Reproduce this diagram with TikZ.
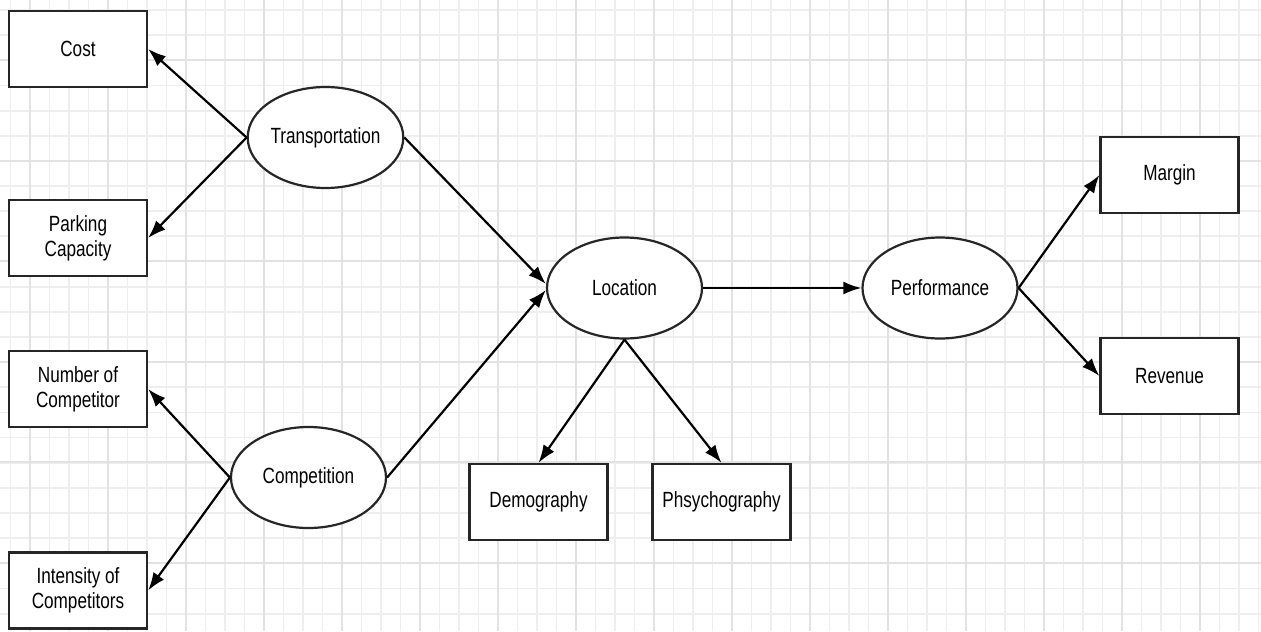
\documentclass[tikz,border=0pt]{standalone}
\usepackage{fontspec}
\setmainfont{Liberation Sans}[FakeStretch=0.78]
\usetikzlibrary{arrows.meta,shapes.geometric}
\definecolor{gridminor}{RGB}{238,238,238}
\definecolor{gridmajor}{RGB}{226,226,226}
\tikzset{
  boxnode/.style={draw=black!85,line width=1.1pt,minimum width=69pt,minimum height=38pt,inner sep=0pt,align=center,font=\fontsize{11}{12.5}\selectfont,fill=white},
  ellnode/.style={draw=black!85,ellipse,line width=1.1pt,minimum width=77.5pt,minimum height=50.5pt,inner sep=0pt,align=center,font=\fontsize{11}{12.5}\selectfont,fill=white},
  conn/.style={draw=black,line width=1.1pt,-{Latex[length=9pt,width=6.5pt]}}
}
\begin{document}
\begin{tikzpicture}[x=0.5pt,y=-0.5pt]
\useasboundingbox (0,0) rectangle (1261,631);
\fill[white] (0,0) rectangle (1261,631);
% grid
\foreach \k in {-1,...,63} {
  \pgfmathsetmacro{\xx}{30+19.5*\k}
  \draw[gridminor,line width=0.9pt] (\xx,0) -- (\xx,631);
}
\foreach \k in {0,...,24} {
  \pgfmathsetmacro{\yy}{10+25.15*\k}
  \draw[gridminor,line width=0.9pt] (0,\yy) -- (1261,\yy);
}
\foreach \k in {0,...,16} {
  \pgfmathsetmacro{\xx}{30+78*\k}
  \draw[gridmajor,line width=1pt] (\xx,0) -- (\xx,631);
}
\foreach \k in {0,...,5} {
  \pgfmathsetmacro{\yy}{60+100.6*\k}
  \draw[gridmajor,line width=1pt] (0,\yy) -- (1261,\yy);
}
% nodes
\node[boxnode] (cost) at (78,49) {Cost};
\node[boxnode] (park) at (78,238) {Parking\\Capacity};
\node[boxnode] (numc) at (78,389) {Number of\\Competitor};
\node[boxnode] (intc) at (78,590.5) {Intensity of\\Competitors};
\node[ellnode] (trans) at (325.5,137.5) {Transportation};
\node[ellnode] (comp) at (308.5,477.5) {Competition};
\node[ellnode] (loc) at (624.5,288) {Location};
\node[ellnode] (perf) at (940,288) {Performance};
\node[boxnode] (demo) at (538.5,502) {Demography};
\node[boxnode] (phsy) at (721.5,502) {Phsychography};
\node[boxnode] (marg) at (1169.5,175) {Margin};
\node[boxnode] (reve) at (1169.5,376) {Revenue};
% connectors
\draw[conn] (trans.west) -- (cost.east);
\draw[conn] (trans.west) -- (park.east);
\draw[conn] (comp.west) -- (numc.east);
\draw[conn] (comp.west) -- (intc.east);
\draw[conn] (trans.east) -- ([yshift=2pt]loc.west);
\draw[conn] (comp.east) -- ([yshift=-1pt]loc.west);
\draw[conn] (loc.east) -- (perf.west);
\draw[conn] (loc.south) -- (demo.north);
\draw[conn] (loc.south) -- (phsy.north);
\draw[conn] (perf.east) -- (marg.west);
\draw[conn] (perf.east) -- (reve.west);
\end{tikzpicture}
\end{document}
